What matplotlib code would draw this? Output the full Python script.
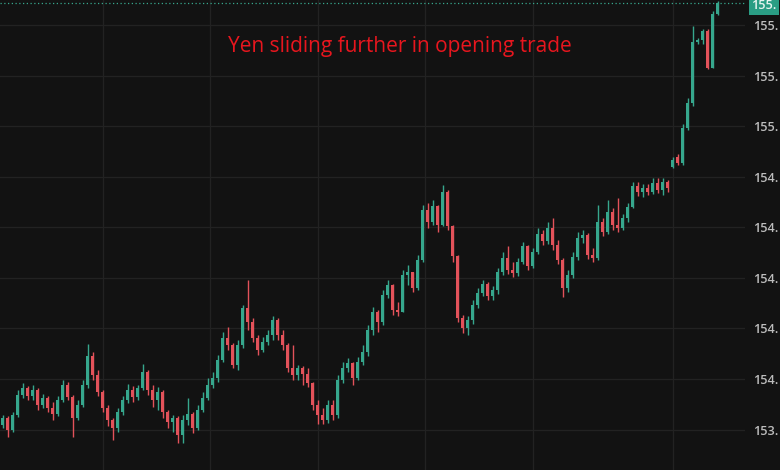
import matplotlib
matplotlib.use("Agg")
import matplotlib.pyplot as plt
import numpy as np

# ---- data ----
opens = [153.818,153.846,153.798,153.858,153.937,153.964,153.933,153.956,153.897,153.925,
         153.885,153.862,153.917,153.976,153.929,153.846,153.897,153.976,154.091,154.016,
         153.948,153.885,153.838,153.806,153.869,153.917,153.956,153.929,153.964,154.027,
         153.956,153.917,153.948,153.869,153.830,153.846,153.778,153.838,153.862,153.806,
         153.877,153.925,153.976,154.004,154.075,154.162,154.134,154.055,154.134,154.280,
         154.225,154.162,154.115,154.146,154.174,154.233,154.174,154.134,154.043,154.016,
         154.043,154.020,153.984,153.897,153.858,153.838,153.897,153.858,153.996,154.043,
         154.063,154.004,154.067,154.107,154.194,154.265,154.225,154.332,154.371,154.273,
         154.265,154.411,154.423,154.360,154.470,154.668,154.620,154.684,154.609,154.739,
         154.605,154.486,154.241,154.202,154.233,154.292,154.340,154.375,154.328,154.352,
         154.423,154.478,154.431,154.419,154.462,154.526,154.446,154.502,154.573,154.545,
         154.597,154.529,154.470,154.360,154.411,154.482,154.557,154.569,154.490,154.478,
         154.620,154.581,154.660,154.609,154.597,154.636,154.680,154.763,154.739,154.755,
         154.739,154.775,154.747,154.779,154.838,154.877,154.854,154.992,155.091,155.332,
         155.340,155.379,155.229,155.443]
highs = [153.858,153.854,153.869,153.956,153.984,153.972,153.976,153.964,153.941,153.933,
         153.909,153.933,153.996,153.988,153.937,153.917,153.996,154.138,154.107,154.035,
         153.956,153.897,153.846,153.885,153.933,153.980,153.972,153.976,154.059,154.035,
         153.976,153.968,153.956,153.877,153.858,153.854,153.858,153.925,153.869,153.897,
         153.948,154.004,154.027,154.095,154.186,154.205,154.142,154.154,154.292,154.391,
         154.241,154.174,154.166,154.194,154.249,154.241,154.194,154.142,154.134,154.055,
         154.051,154.043,153.988,153.917,153.885,153.917,153.917,154.016,154.067,154.083,
         154.067,154.087,154.134,154.213,154.284,154.273,154.352,154.391,154.375,154.304,
         154.431,154.450,154.423,154.490,154.688,154.696,154.707,154.688,154.767,154.747,
         154.609,154.490,154.253,154.249,154.312,154.360,154.391,154.383,154.367,154.439,
         154.502,154.526,154.462,154.478,154.541,154.529,154.518,154.597,154.589,154.620,
         154.636,154.549,154.478,154.431,154.502,154.581,154.589,154.577,154.518,154.688,
         154.636,154.707,154.676,154.715,154.652,154.696,154.779,154.779,154.771,154.771,
         154.794,154.794,154.794,154.787,154.877,154.889,155.008,155.111,155.399,155.348,
         155.387,155.387,155.458,155.498]
lows = [153.806,153.771,153.790,153.850,153.925,153.917,153.917,153.877,153.885,153.869,
        153.838,153.854,153.909,153.917,153.771,153.838,153.889,153.964,153.996,153.933,
        153.869,153.814,153.759,153.790,153.858,153.905,153.909,153.917,153.956,153.937,
        153.889,153.877,153.846,153.806,153.790,153.747,153.747,153.818,153.786,153.798,
        153.869,153.917,153.964,153.988,154.067,154.115,154.043,154.035,154.122,154.194,
        154.146,154.095,154.107,154.134,154.154,154.154,154.115,154.027,153.996,153.996,
        153.976,153.968,153.877,153.822,153.822,153.826,153.838,153.846,153.984,154.027,
        153.976,153.996,154.055,154.091,154.174,154.186,154.213,154.320,154.253,154.249,
        154.265,154.371,154.344,154.352,154.462,154.597,154.609,154.581,154.605,154.589,
        154.462,154.225,154.182,154.174,154.217,154.280,154.328,154.312,154.312,154.336,
        154.411,154.415,154.403,154.407,154.454,154.431,154.439,154.494,154.529,154.533,
        154.510,154.454,154.324,154.344,154.399,154.470,154.537,154.474,154.462,154.470,
        154.565,154.573,154.589,154.581,154.589,154.620,154.676,154.723,154.719,154.727,
        154.731,154.735,154.727,154.739,154.834,154.846,154.846,154.984,155.079,155.324,
        155.324,155.225,155.229,155.439]
closes = [153.846,153.798,153.858,153.937,153.964,153.933,153.956,153.897,153.925,153.885,
          153.862,153.917,153.976,153.929,153.846,153.897,153.976,154.091,154.016,153.948,
          153.885,153.838,153.806,153.869,153.917,153.956,153.929,153.964,154.027,153.956,
          153.917,153.948,153.869,153.830,153.846,153.778,153.838,153.862,153.806,153.877,
          153.925,153.976,154.004,154.075,154.162,154.134,154.055,154.134,154.280,154.225,
          154.162,154.115,154.146,154.174,154.233,154.174,154.134,154.043,154.016,154.043,
          154.020,153.984,153.897,153.858,153.838,153.897,153.858,153.996,154.043,154.063,
          154.004,154.067,154.107,154.194,154.265,154.225,154.332,154.371,154.273,154.265,
          154.411,154.423,154.360,154.470,154.668,154.620,154.684,154.609,154.739,154.605,
          154.486,154.241,154.202,154.233,154.292,154.340,154.375,154.328,154.352,154.423,
          154.478,154.431,154.419,154.462,154.526,154.446,154.502,154.573,154.545,154.597,
          154.529,154.470,154.360,154.411,154.482,154.557,154.569,154.490,154.478,154.620,
          154.581,154.660,154.609,154.597,154.636,154.680,154.763,154.739,154.755,154.739,
          154.775,154.747,154.779,154.755,154.866,154.854,154.992,155.091,155.332,155.340,
          155.379,155.229,155.443,155.490]

y_ticks = [153.8, 154.0, 154.2, 154.4, 154.6, 154.8, 155.0, 155.2, 155.4]
y_tick_labels = ["153.", "154.", "154.", "154.", "154.", "154.", "155.", "155.", "155."]
session_marks = [20, 41.5, 63, 84.5, 106, 134]
title = "Yen sliding further in opening trade"
last_label = "155."

# ---- style ----
BG = "#121212"
UP = "#36a78d"
DOWN = "#e3525a"
GRID = "#222222"

fig = plt.figure(figsize=(7.8, 4.7), dpi=100, facecolor=BG)
ax = fig.add_axes([0, 0, 745 / 780, 1])
ax.set_facecolor(BG)

o = np.array(opens); h = np.array(highs); l = np.array(lows); c = np.array(closes)
x = np.arange(len(c))
up = c >= o
cols = np.where(up, UP, DOWN)

ax.vlines(x, l, h, colors=cols, linewidth=1.0, zorder=3)
body_lo = np.minimum(o, c)
body_h = np.maximum(np.abs(c - o), 0.004)
ax.bar(x, body_h, bottom=body_lo, width=0.78, color=cols, linewidth=0, zorder=4)

ax.set_xlim(-0.5, 148.5)
ax.set_ylim(153.64, 155.50)

for yt in y_ticks:
    ax.axhline(yt, color=GRID, linewidth=0.9, zorder=1)
for xm in session_marks:
    ax.axvline(xm, color=GRID, linewidth=0.9, zorder=1)

ax.axhline(closes[-1], color=UP, linewidth=0.9, linestyle=(0, (1, 2)), zorder=2)

ax.yaxis.tick_right()
ax.set_yticks(y_ticks)
ax.set_yticklabels(y_tick_labels, fontsize=9.2, color="#bdbdbd", fontfamily="Open Sans",
                   fontweight="semibold")
ax.tick_params(axis="y", length=0, pad=6)
ax.set_xticks([])
for s in ax.spines.values():
    s.set_visible(False)

ax.text(0.537, 0.902, title, transform=ax.transAxes, ha="center", va="center",
        color="#e8161e", fontsize=15, fontfamily="Open Sans")

ax.annotate(last_label, xy=(1.0, 155.478), xycoords=("axes fraction", "data"),
            xytext=(4.5, 0), textcoords="offset points", ha="left", va="center",
            fontsize=9.2, color="#e8f5f1", fontfamily="Open Sans", fontweight="semibold",
            bbox=dict(boxstyle="square,pad=0.2", fc="#2a9d84", ec="none"),
            annotation_clip=False)

fig.savefig("out.png", dpi=100, facecolor=BG)
